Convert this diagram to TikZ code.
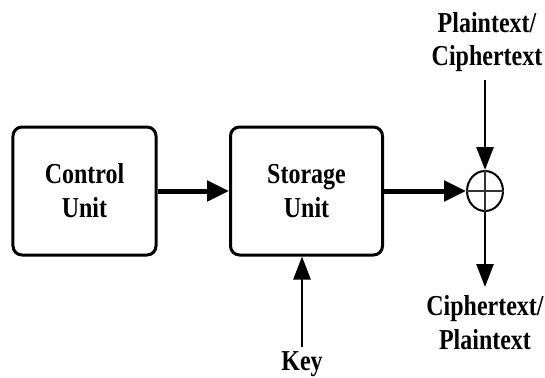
\documentclass[tikz,border=0pt]{standalone}
\usepackage{fontspec}
\setmainfont{Liberation Serif}[FakeStretch=0.83]
\usetikzlibrary{arrows.meta,shapes.geometric}
\begin{document}
\begin{tikzpicture}[x=1bp,y=-1bp,
  txt/.style={font=\bfseries\fontsize{29}{34}\selectfont},
  box/.style={txt, draw, line width=3bp, rounded corners=9bp, minimum height=128bp, align=center, inner sep=0},
  lbl/.style={txt, align=center, inner sep=0},
  bigarrow/.style={line width=5bp, -{Triangle[length=22bp,width=20bp]}},
  smallarrow/.style={line width=2.6bp, -{Triangle[length=23bp,width=17bp]}},
  xorstyle/.style={draw, ellipse, line width=2bp, minimum width=36bp, minimum height=40bp, inner sep=0}]
\useasboundingbox (0,0) rectangle (545,377);
\node[box, minimum width=143bp] (cu) at (84.5,191) {Control\\Unit};
\node[box, minimum width=152bp] (su) at (306.5,191) {Storage\\Unit};
\node[xorstyle] (xor) at (485,191) {};
\draw[line width=1.4bp, black!80] (xor.north) -- (xor.south);
\draw[line width=1.4bp, black!80] (xor.west) -- (xor.east);
\node[lbl] (pin) at (487,42) {Plaintext/\\Ciphertext};
\node[lbl] (pout) at (485,323) {Ciphertext/\\Plaintext};
\node[lbl] (key) at (302,364) {Key};
\coordinate (intop) at (485,80);
\coordinate (outend) at (485,287);
\coordinate (keytail) at (302,347);
\draw[bigarrow] (cu.east) -- (su.west);
\draw[bigarrow] (su.east) -- (xor.west);
\draw[smallarrow] (intop) -- (xor.north);
\draw[smallarrow] (xor.south) -- (outend);
\draw[smallarrow] (keytail) -- (keytail |- su.south);
\end{tikzpicture}
\end{document}
